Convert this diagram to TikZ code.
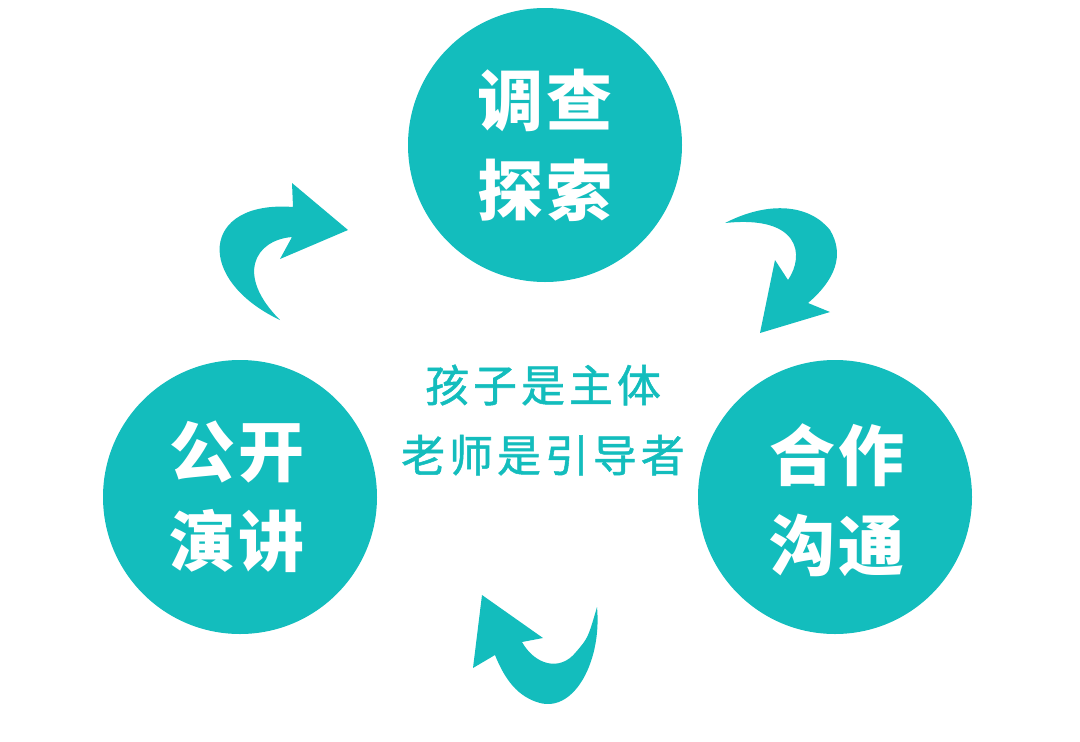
\documentclass[tikz,border=0pt]{standalone}
\usepackage{fontspec}
\newfontfamily\cjk[LetterSpace=4]{Noto Sans CJK SC}
\newfontfamily\cjkc[LetterSpace=9,FakeBold=1.2]{Noto Sans CJK SC}
\definecolor{teal1}{HTML}{13BDBD}
\begin{document}
\begin{tikzpicture}[x=1pt,y=-1pt,
  bigc/.style={circle,fill=teal1,minimum size=274pt,inner sep=0pt},
  ctext/.style={text=white,font=\cjk\bfseries\fontsize{66}{90}\selectfont,align=center},
  mtext/.style={text=teal1,font=\cjkc\fontsize{44}{70}\selectfont,align=center},
  arr/.style={fill=teal1,draw=none}]
\useasboundingbox (0,0) rectangle (1080,742);
\node[bigc] (top) at (545,145) {};
\node[bigc] (left) at (240,497) {};
\node[bigc] (right) at (835,497) {};
\node[ctext] (tt) at (545,145) {调查\\探索};
\node[ctext] (lt) at (237,497) {公开\\演讲};
\node[ctext] (rt) at (837,500) {合作\\沟通};
\node[mtext] (mid) at (543,420) {孩子是主体\\老师是引导者};
% top-left arrow
\coordinate (a1) at (280,320);
\fill[arr] (a1) .. controls (195,280) and (200,200) .. (293,207)
  -- (292,183) -- (348,230) -- (280,259) -- (292,237)
  .. controls (255,240) and (235,275) .. (a1) -- cycle;
% top-right arrow
\coordinate (a2) at (725,223);
\fill[arr] (a2) .. controls (770,200) and (810,205) .. (830,230)
  .. controls (845,255) and (835,280) .. (808,303)
  -- (830,312) -- (760,333) -- (775,260) -- (788,280)
  .. controls (805,255) and (800,215) .. (a2) -- cycle;
% bottom arrow
\coordinate (a3) at (597,607);
\fill[arr] (a3) .. controls (602,660) and (575,712) .. (540,703)
  .. controls (518,697) and (505,680) .. (495,655)
  -- (473,668) -- (482,595) -- (543,638) -- (522,642)
  .. controls (535,665) and (560,672) .. (576,652)
  .. controls (588,638) .. (a3) -- cycle;
\end{tikzpicture}
\end{document}
